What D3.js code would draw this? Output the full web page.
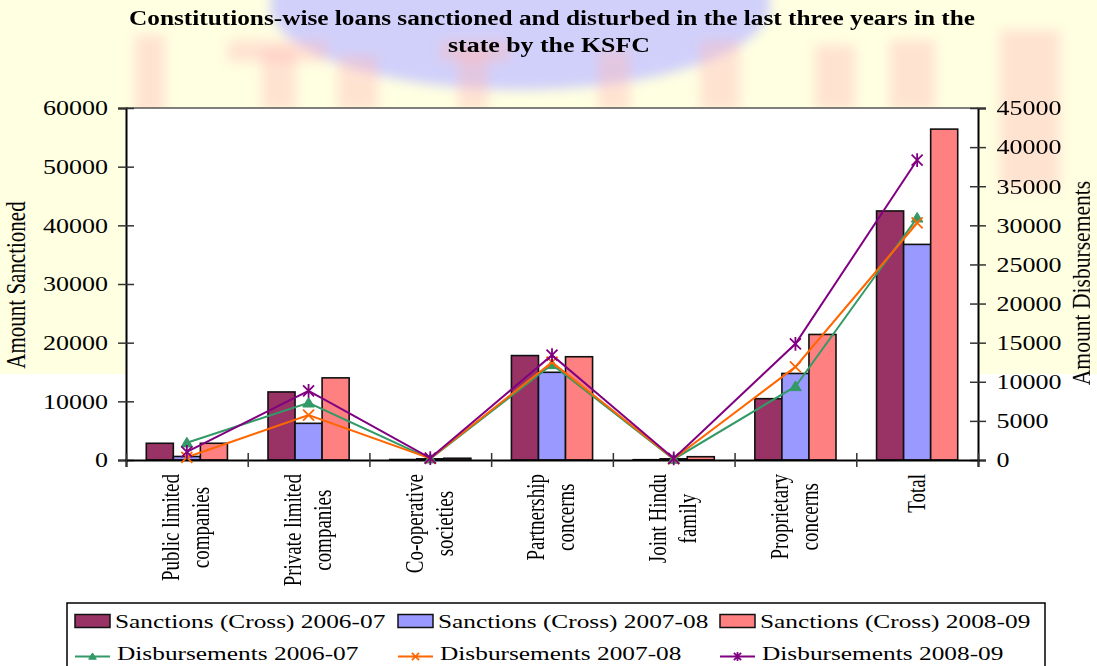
<!DOCTYPE html>
<html><head><meta charset="utf-8">
<script src="https://cdn.jsdelivr.net/npm/d3@7"></script>
<style>
body{margin:0;background:#fff}
svg{display:block}
text{font-family:"Liberation Serif","Times New Roman",serif;fill:#000}
</style></head>
<body><svg id="c" width="1097" height="666"></svg>
<script>
// ---- data ----
const titleLines = ["Constitutions-wise loans sanctioned and disturbed in the last three years in the", "state by the KSFC"];
const categories = [["Public limited","companies"],["Private limited","companies"],["Co-operative","societies"],["Partnership","concerns"],["Joint Hindu","family"],["Proprietary","concerns"],["Total"]];
const sanctions0607 = [2850, 11600, 80, 17800, 50, 10450, 42450];
const sanctions0708 = [600, 6250, 200, 14950, 200, 14750, 36750];
const sanctions0809 = [2850, 14000, 300, 17600, 560, 21400, 56400];
const disb0607 = [2200, 7300, 150, 12200, 100, 9400, 30950];
const disb0708 = [350, 5750, 200, 12500, 150, 11900, 30300];
const disb0809 = [1050, 8850, 250, 13400, 200, 14850, 38350];
const leftTicks = [0,10000,20000,30000,40000,50000,60000];
const rightTicks = [0,5000,10000,15000,20000,25000,30000,35000,40000,45000];
const barSeries = [
  {name:"Sanctions (Cross) 2006-07", values:sanctions0607, color:"#993366"},
  {name:"Sanctions (Cross) 2007-08", values:sanctions0708, color:"#9999FF"},
  {name:"Sanctions (Cross) 2008-09", values:sanctions0809, color:"#FF8080"}
];
const lineSeries = [
  {name:"Disbursements 2006-07", values:disb0607, color:"#339966", marker:"tri"},
  {name:"Disbursements 2007-08", values:disb0708, color:"#FF6600", marker:"x"},
  {name:"Disbursements 2008-09", values:disb0809, color:"#800080", marker:"star"}
];
const leftTitle = "Amount Sanctioned", rightTitle = "Amount Disbursements";

// ---- layout ----
const S = 1.3; // horizontal glyph stretch seen in the picture
const X0=126, X1=978, Y0=108, Y1=460;
const svg = d3.select("#c");

// background wash (page watermark)
const defs = svg.append("defs");
defs.append("filter").attr("id","blur").append("feGaussianBlur").attr("stdDeviation",6);
svg.append("rect").attr("x",0).attr("y",0).attr("width",1097).attr("height",374).attr("fill","#FFFFE2");
const wm = svg.append("g").attr("filter","url(#blur)");
wm.append("ellipse").attr("cx",520).attr("cy",5).attr("rx",250).attr("ry",85).attr("fill","#C8C8FF").attr("opacity",0.85);
[[135,35,30,80],[228,40,100,22],[262,50,34,60],[338,55,40,55],[440,40,70,22],[458,50,30,60],[598,50,32,60],[700,40,40,70],[815,45,40,65],[890,40,45,70],[1000,30,60,160]].forEach(r=>{
  wm.append("rect").attr("x",r[0]).attr("y",r[1]).attr("width",r[2]).attr("height",r[3]).attr("fill","#FFB8B8").attr("opacity",0.4);
});

// title
titleLines.forEach((t,i)=>{
  svg.append("text").attr("x",[552,549][i]).attr("y",[25,52][i]).attr("text-anchor","middle")
    .attr("font-weight","bold").attr("font-size",20)
    .attr("textLength",[846,202][i]).attr("lengthAdjust","spacingAndGlyphs").text(t);
});

// scales
const x = d3.scaleBand().domain(d3.range(categories.length)).range([X0,X1]).paddingInner(0).paddingOuter(0);
const xi = d3.scaleBand().domain(d3.range(barSeries.length)).range([0,x.bandwidth()]).paddingInner(0).paddingOuter(0.75);
const xb = d3.scaleLinear().domain([0,categories.length]).range([X0,X1]);
const yL = d3.scaleLinear().domain([0,60000]).range([Y1,Y0]);
const yR = d3.scaleLinear().domain([0,45000]).range([Y1,Y0]);

// plot area
svg.append("rect").attr("x",X0).attr("y",Y0).attr("width",X1-X0).attr("height",Y1-Y0).attr("fill","#fff");
svg.append("line").attr("x1",X0).attr("x2",X1).attr("y1",Y0).attr("y2",Y0).attr("stroke","#555").attr("stroke-width",1.5);

// bars
const gb = svg.append("g");
barSeries.forEach((s,si)=>{
  gb.selectAll(null).data(s.values).join("rect")
    .attr("x",(d,i)=>x(i)+xi(si)).attr("width",xi.bandwidth())
    .attr("y",d=>yL(d)).attr("height",d=>Y1-yL(d))
    .attr("fill",s.color).attr("stroke","#111").attr("stroke-width",1.6);
});

// axes
const ga = svg.append("g").attr("transform",`translate(${X0},0)`).call(d3.axisLeft(yL).tickValues(leftTicks).tickSize(8).tickFormat(d=>d));
const gr = svg.append("g").attr("transform",`translate(${X1},0)`).call(d3.axisRight(yR).tickValues(rightTicks).tickSize(8).tickFormat(d=>d));
const gx = svg.append("g").attr("transform",`translate(0,${Y1})`).call(d3.axisBottom(xb).tickValues(d3.range(categories.length+1)).tickSize(7).tickFormat(""));
[ga,gr,gx].forEach(g=>{g.select(".domain").attr("stroke","#000").attr("stroke-width",2);});
ga.selectAll(".tick line").attr("x1",-8).attr("x2",8).attr("stroke","#333").attr("stroke-width",1.5);
gr.selectAll(".tick line").attr("x1",-8).attr("x2",8).attr("stroke","#333").attr("stroke-width",1.5);
gx.selectAll(".tick line").attr("y1",-7).attr("y2",7).attr("stroke","#333").attr("stroke-width",1.5);
ga.selectAll(".tick text").attr("font-family",null).attr("font-size",20).attr("fill","#000")
  .attr("x",0).attr("dy","0.34em")
  .attr("transform",function(){return `translate(-18,0) scale(${S},1)`;}).attr("text-anchor","end");
gr.selectAll(".tick text").attr("font-family",null).attr("font-size",20).attr("fill","#000")
  .attr("x",0).attr("dy","0.34em")
  .attr("transform",function(){return `translate(18.5,0) scale(${S},1)`;}).attr("text-anchor","start");

// category labels (rotated)
const gc = svg.append("g");
categories.forEach((lines,i)=>{
  const cx = x(i)+x.bandwidth()/2;
  const n = lines.length;
  const tmp = lines.map(l=>gc.append("text").attr("font-size",19).text(l));
  const lens = tmp.map(t=>t.node().getComputedTextLength());
  const maxLen = d3.max(lens);
  const yc = 474 + maxLen/2;
  tmp.forEach((t,k)=>{
    const gx0 = cx + (k-(n-1)/2)*30 + 7.4;
    t.attr("text-anchor","middle").attr("transform",`translate(${gx0},${yc}) scale(${S},1) rotate(-90)`);
  });
});

// axis titles
svg.append("text").attr("font-size",21).attr("text-anchor","middle")
  .attr("transform",`translate(25,285) scale(${S},1) rotate(-90)`).text(leftTitle);
svg.append("text").attr("font-size",21.6).attr("text-anchor","middle")
  .attr("transform",`translate(1090,283) scale(1.15,1) rotate(-90)`).text(rightTitle);

// markers
function markerPath(type, s){
  if(type==="tri") return `M0,${-s}L${s*1.05},${s*0.75}L${-s*1.05},${s*0.75}Z`;
  if(type==="x") return `M${-s},${-s}L${s},${s}M${-s},${s}L${s},${-s}`;
  return `M${-s},${-s}L${s},${s}M${-s},${s}L${s},${-s}M0,${-s*1.25}L0,${s*1.25}`;
}
function drawMarker(g, type, color, s){
  const p = g.append("path").attr("d",markerPath(type,s));
  if(type==="tri") p.attr("fill",color).attr("stroke",color).attr("stroke-width",1);
  else p.attr("fill","none").attr("stroke",color).attr("stroke-width",1.8);
  return p;
}

// lines
const line = d3.line().x((d,i)=>x(i)+x.bandwidth()/2).y(d=>yR(d));
lineSeries.forEach(s=>{
  const g = svg.append("g");
  g.append("path").attr("d",line(s.values)).attr("fill","none").attr("stroke",s.color).attr("stroke-width",2);
  s.values.forEach((v,i)=>{
    const m = drawMarker(g, s.marker, s.color, 5.5);
    m.attr("transform",`translate(${x(i)+x.bandwidth()/2},${yR(v)})`);
  });
});

// legend
const lg = svg.append("g");
lg.append("rect").attr("x",67).attr("y",603).attr("width",978).attr("height",80).attr("fill","#fff").attr("stroke","#000").attr("stroke-width",1.5);
const colX = [75, 398, 720];
barSeries.forEach((s,i)=>{
  lg.append("rect").attr("x",colX[i]).attr("y",614.5).attr("width",35).attr("height",13).attr("fill",s.color).attr("stroke","#111").attr("stroke-width",1.5);
  lg.append("text").attr("font-size",19.5).attr("transform",`translate(${colX[i]+40},628) scale(${S},1)`).text(s.name);
});
lineSeries.forEach((s,i)=>{
  lg.append("line").attr("x1",colX[i]).attr("x2",colX[i]+35).attr("y1",656.5).attr("y2",656.5).attr("stroke",s.color).attr("stroke-width",2);
  drawMarker(lg, s.marker, s.color, 3.6).attr("transform",`translate(${colX[i]+17.5},656.5)`);
  lg.append("text").attr("font-size",19.5).attr("transform",`translate(${colX[i]+42},659.5) scale(${S},1)`).text(s.name);
});
</script>
</body></html>
